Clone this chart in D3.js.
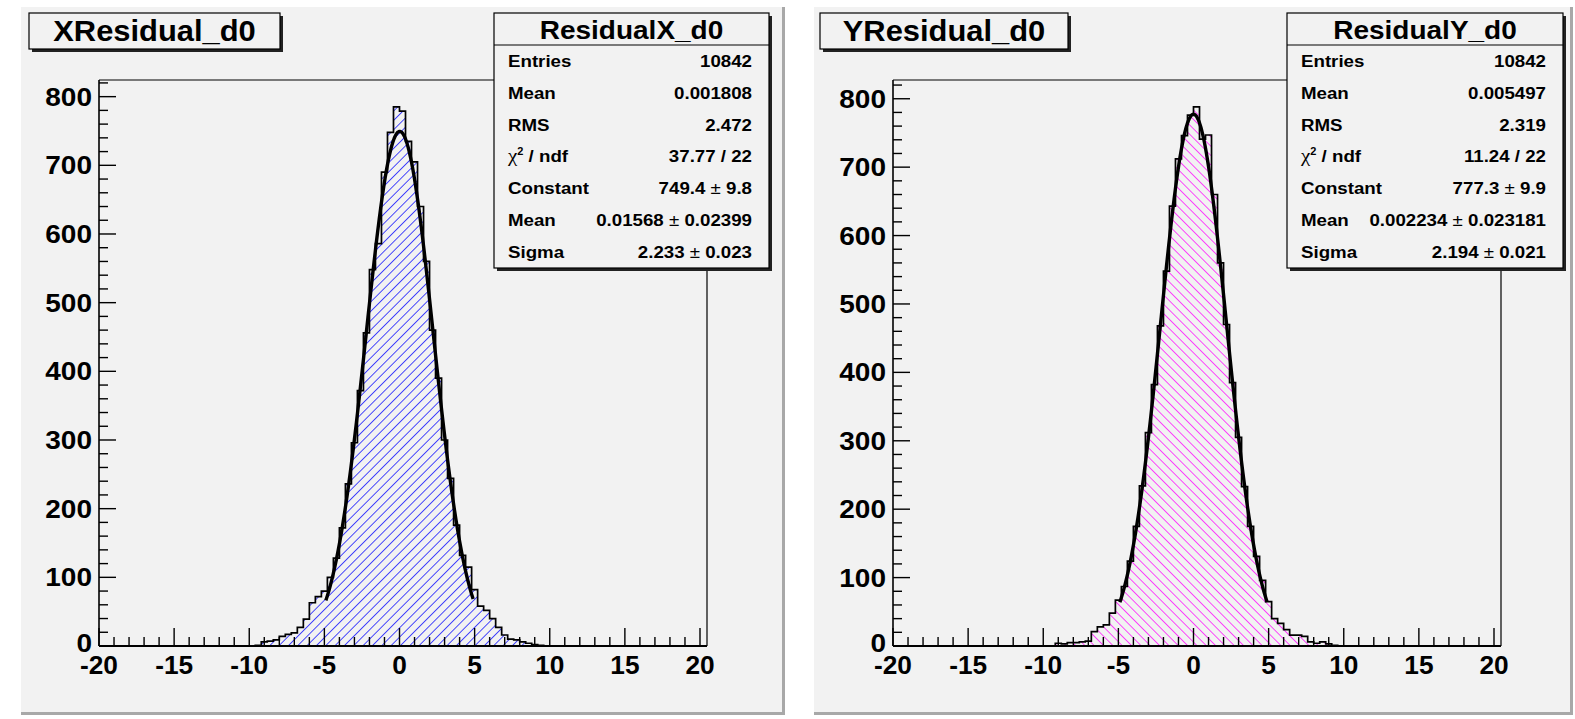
<!DOCTYPE html>
<html>
<head>
<meta charset="utf-8">
<script src="https://cdn.jsdelivr.net/npm/d3@7"></script>
<style>
  body { margin: 0; background: #fff; }
  svg { display: block; }
</style>
</head>
<body>
<svg id="chart" width="1575" height="719"></svg>
<script>
// bin lower edges (bin width 0.4), everything outside [-10, 10] is empty
const binLow = [-10, -9.6, -9.2, -8.8, -8.4, -8, -7.6, -7.2, -6.8, -6.4,
  -6, -5.6, -5.2, -4.8, -4.4, -4, -3.6, -3.2, -2.8, -2.4,
  -2, -1.6, -1.2, -0.8, -0.4, 0, 0.4, 0.8, 1.2, 1.6,
  2, 2.4, 2.8, 3.2, 3.6, 4, 4.4, 4.8, 5.2, 5.6,
  6, 6.4, 6.8, 7.2, 7.6, 8, 8.4, 8.8, 9.2, 9.6];
const binWidth = 0.4;

const countsX = [0, 1, 6, 7, 9, 14, 17, 19, 27, 39,
  63, 72, 80, 100, 128, 172, 236, 296, 372, 456,
  548, 586, 690, 748, 785, 779, 735, 705, 640, 560,
  460, 390, 300, 244, 176, 132, 115, 82, 58, 52,
  40, 27, 16, 10, 9, 6, 4, 2, 1, 0];

const countsY = [0, 0, 4, 3, 5, 5, 6, 7, 21, 28,
  31, 48, 67, 87, 124, 175, 234, 312, 382, 468,
  548, 643, 712, 746, 776, 788, 741, 747, 660, 560,
  470, 385, 305, 233, 175, 131, 96, 65, 40, 33,
  24, 16, 16, 14, 6, 4, 6, 3, 1, 0];

const xTicks = [-20, -15, -10, -5, 0, 5, 10, 15, 20];
const yTicks = [0, 100, 200, 300, 400, 500, 600, 700, 800];

const statLabels = ["Entries", "Mean", "RMS", "chi2", "Constant", "Mean", "Sigma"];
const statsX = ["10842", "0.001808", "2.472", "37.77 / 22", "749.4 ± 9.8", "0.01568 ± 0.02399", "2.233 ± 0.023"];
const statsY = ["10842", "0.005497", "2.319", "11.24 / 22", "777.3 ± 9.9", "0.002234 ± 0.023181", "2.194 ± 0.021"];

// gaus fit: constant, mean, sigma
const fitX = [749.4, 0.01568, 2.233];
const fitY = [777.3, 0.002234, 2.194];
const fitRange = [-4.9, 4.9];

const svg = d3.select("#chart");
const FONT = "'Liberation Sans', Arial, Helvetica, sans-serif";

const defs = svg.append("defs");
function hatch(id, color, angle) {
  const p = defs.append("pattern")
    .attr("id", id)
    .attr("patternUnits", "userSpaceOnUse")
    .attr("width", 6.6).attr("height", 6.6)
    .attr("patternTransform", "rotate(" + angle + ")");
  p.append("line")
    .attr("x1", 0).attr("y1", 0).attr("x2", 0).attr("y2", 6.6)
    .attr("stroke", color).attr("stroke-width", 1.4);
}
hatch("hatchX", "#0000ff", 45);
hatch("hatchY", "#ff00ff", -45);

function txt(g, x, y, s, size, anchor, sx) {
  return g.append("text")
    .attr("transform", "translate(" + x + "," + y + ") scale(" + (sx || 1.1) + ",1)")
    .attr("text-anchor", anchor || "start")
    .style("font-family", FONT)
    .style("font-weight", "bold")
    .style("font-size", size + "px")
    .attr("fill", "#000")
    .text(s);
}

function drawPanel(o) {
  const g = svg.append("g");

  // pad
  g.append("rect").attr("x", o.pad[0]).attr("y", o.pad[1]).attr("width", o.pad[2]).attr("height", o.pad[3])
    .attr("fill", "#f2f2f2");
  g.append("rect").attr("x", o.pad[0]).attr("y", o.pad[1] + o.pad[3]).attr("width", o.pad[2] + 3).attr("height", 3)
    .attr("fill", "#a8a8a8");
  g.append("rect").attr("x", o.pad[0] + o.pad[2]).attr("y", o.pad[1]).attr("width", 3).attr("height", o.pad[3])
    .attr("fill", "#a8a8a8");

  const ymax = d3.max(o.counts) * 1.05;
  const x = d3.scaleLinear().domain([-20, 20]).range([o.fx0, o.fx1]);
  const y = d3.scaleLinear().domain([0, ymax]).range([o.fy1, o.fy0]);
  const frameRight = o.fx1 + 7;

  // histogram as steps
  const pts = [];
  binLow.forEach((lo, i) => {
    pts.push([lo, o.counts[i]]);
    pts.push([lo + binWidth, o.counts[i]]);
  });
  g.append("path")
    .datum(pts)
    .attr("d", d3.area().x((d) => x(d[0])).y0(y(0)).y1((d) => y(d[1])))
    .attr("fill", "url(#" + o.hatch + ")");
  const outline = [[-20, 0], [binLow[0], 0]].concat(pts, [[binLow[binLow.length - 1] + binWidth, 0], [20, 0]]);
  g.append("path")
    .datum(outline)
    .attr("d", d3.line().x((d) => x(d[0])).y((d) => y(d[1])))
    .attr("fill", "none")
    .attr("stroke", "#000")
    .attr("stroke-width", 1.7);

  // fit function
  const C = o.fit[0], mu = o.fit[1], sg = o.fit[2];
  const xs = d3.range(fitRange[0], fitRange[1] + 1e-9, 0.05);
  g.append("path")
    .datum(xs)
    .attr("d", d3.line().x((v) => x(v)).y((v) => y(C * Math.exp(-0.5 * Math.pow((v - mu) / sg, 2)))))
    .attr("fill", "none")
    .attr("stroke", "#000")
    .attr("stroke-width", 3.4)
    .attr("stroke-linejoin", "round");

  // frame
  g.append("path")
    .attr("d", "M" + o.fx0 + "," + o.fy0 + "H" + frameRight + "V" + o.fy1)
    .attr("fill", "none").attr("stroke", "#000").attr("stroke-width", 1.2);
  g.append("line").attr("x1", o.fx0).attr("x2", frameRight).attr("y1", o.fy1).attr("y2", o.fy1)
    .attr("stroke", "#000").attr("stroke-width", 2);
  g.append("line").attr("x1", o.fx0).attr("x2", o.fx0).attr("y1", o.fy0).attr("y2", o.fy1)
    .attr("stroke", "#000").attr("stroke-width", 1.6);

  // x ticks
  d3.range(-20, 20.001, 1).forEach((v) => {
    const major = v % 5 === 0;
    g.append("line").attr("x1", x(v)).attr("x2", x(v))
      .attr("y1", o.fy1).attr("y2", o.fy1 - (major ? 18 : 9))
      .attr("stroke", "#000").attr("stroke-width", 1.4);
  });
  xTicks.forEach((v) => txt(g, x(v), o.fy1 + 28, String(v), 25, "middle", 1.05));

  // y ticks
  d3.range(0, ymax, 20).forEach((v) => {
    const major = v % 100 === 0;
    g.append("line").attr("x1", o.fx0).attr("x2", o.fx0 + (major ? 17 : 9))
      .attr("y1", y(v)).attr("y2", y(v))
      .attr("stroke", "#000").attr("stroke-width", 1.4);
  });
  yTicks.forEach((v) => txt(g, o.fx0 - 7, y(v) + (v === 0 ? 6 : 9), String(v), 25, "end", 1.12));

  // title box
  const tb = o.title;
  g.append("rect").attr("x", tb[0] + 3).attr("y", tb[1] + 3).attr("width", tb[2]).attr("height", tb[3]).attr("fill", "#222");
  g.append("rect").attr("x", tb[0]).attr("y", tb[1]).attr("width", tb[2]).attr("height", tb[3])
    .attr("fill", "#f2f2f2").attr("stroke", "#000").attr("stroke-width", 1.2);
  txt(g, tb[0] + tb[2] / 2, tb[1] + 28, o.titleText, 30, "middle", 1.03);

  // stats box
  const sb = o.stats;
  g.append("rect").attr("x", sb[0] + 3).attr("y", sb[1] + 3).attr("width", sb[2]).attr("height", sb[3]).attr("fill", "#222");
  g.append("rect").attr("x", sb[0]).attr("y", sb[1]).attr("width", sb[2]).attr("height", sb[3])
    .attr("fill", "#f2f2f2").attr("stroke", "#000").attr("stroke-width", 1.2);
  g.append("line").attr("x1", sb[0]).attr("x2", sb[0] + sb[2]).attr("y1", sb[1] + 32).attr("y2", sb[1] + 32)
    .attr("stroke", "#000").attr("stroke-width", 1.2);
  txt(g, sb[0] + sb[2] / 2, sb[1] + 26, o.statsTitle, 25, "middle", 1.12);

  statLabels.forEach((lab, i) => {
    const by = sb[1] + 54 + i * 31.75;
    if (lab === "chi2") {
      const t = txt(g, sb[0] + 14, by, "", 17, "start", 1.1);
      t.append("tspan").style("font-family", "'Liberation Serif', 'DejaVu Serif', serif")
        .style("font-weight", "normal").style("font-size", "19px").text("χ");
      t.append("tspan").attr("dy", -7).style("font-size", "10px").text("2");
      t.append("tspan").attr("dy", 7).text(" / ndf");
    } else {
      txt(g, sb[0] + 14, by, lab, 17, "start", 1.1);
    }
    const val = o.statVals[i];
    const t = txt(g, sb[0] + sb[2] - 17, by, "", 17, "end", 1.1);
    const parts = val.split("±");
    t.append("tspan").text(parts[0]);
    if (parts.length > 1) {
      t.append("tspan").style("font-weight", "normal").text("±");
      t.append("tspan").text(parts[1]);
    }
  });
}

drawPanel({
  pad: [21, 7, 761, 705],
  fx0: 99, fx1: 700, fy0: 80, fy1: 646,
  counts: countsX, fit: fitX, hatch: "hatchX",
  title: [29, 13, 251, 36], titleText: "XResidual_d0",
  stats: [494, 13, 275, 255], statsTitle: "ResidualX_d0", statVals: statsX
});

drawPanel({
  pad: [814, 7, 756, 705],
  fx0: 893, fx1: 1494, fy0: 80, fy1: 646,
  counts: countsY, fit: fitY, hatch: "hatchY",
  title: [820, 13, 248, 36], titleText: "YResidual_d0",
  stats: [1287, 13, 276, 255], statsTitle: "ResidualY_d0", statVals: statsY
});
</script>
</body>
</html>
